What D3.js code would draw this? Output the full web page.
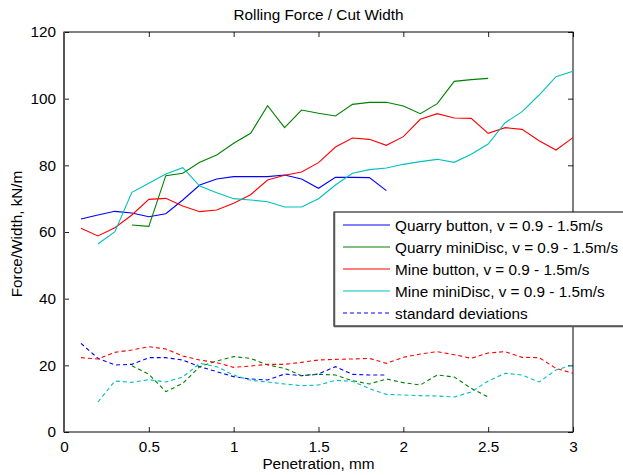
<!DOCTYPE html>
<html>
<head>
<meta charset="utf-8">
<script src="https://cdn.jsdelivr.net/npm/d3@7"></script>
<style>
  html, body { margin: 0; padding: 0; background: #fff; }
  svg { display: block; }
  text { font-family: "Liberation Sans", Arial, sans-serif; fill: #000; }
</style>
</head>
<body>
<svg id="chart" width="623" height="475"></svg>
<script>
// Penetration positions (mm) for each run, sampled every 0.1 mm
const quarryButtonX   = d3.range(1, 20).map(i => i / 10);   // 0.1 .. 1.9
const quarryMiniDiscX = d3.range(4, 26).map(i => i / 10);   // 0.4 .. 2.5
const mineButtonX     = d3.range(1, 31).map(i => i / 10);   // 0.1 .. 3.0
const mineMiniDiscX   = d3.range(2, 31).map(i => i / 10);   // 0.2 .. 3.0

// Mean rolling force per cut width, kN/m
const quarryButtonMean = [63.9, 65.1, 66.2, 65.7, 64.6, 65.5, 69.6, 74.1, 75.9, 76.6,
  76.6, 76.6, 77.1, 75.9, 73.1, 76.4, 76.4, 76.3, 72.4];
const quarryMiniDiscMean = [62.1, 61.7, 76.9, 77.6, 80.9, 83.1, 86.6, 89.6, 97.9, 91.3,
  96.6, 95.6, 94.8, 98.3, 98.9, 98.9, 97.8, 95.5, 98.5, 105.2, 105.7, 106.1];
const mineButtonMean = [61.1, 58.8, 61.3, 65.1, 69.8, 70.1, 67.8, 66.1, 66.6, 68.6,
  71.2, 75.6, 77.0, 78.0, 80.8, 85.5, 88.2, 87.8, 86.0, 88.6,
  93.8, 95.5, 94.2, 94.1, 89.6, 91.3, 90.8, 87.4, 84.6, 88.3];
const mineMiniDiscMean = [56.4, 60.1, 71.9, 74.6, 77.4, 79.3, 73.8, 71.8, 70.0, 69.6,
  69.1, 67.5, 67.5, 70.0, 74.1, 77.6, 78.7, 79.2, 80.3, 81.1,
  81.8, 80.9, 83.3, 86.4, 92.8, 96.1, 101.1, 106.6, 108.2];

// Standard deviations, kN/m
const quarryButtonSD = [26.6, 22.1, 20.1, 20.3, 22.3, 22.3, 21.6, 19.6, 18.1, 16.6,
  15.9, 15.6, 17.4, 16.9, 17.4, 19.6, 17.3, 17.1, 17.1];
const quarryMiniDiscSD = [19.9, 17.3, 12.1, 14.6, 19.6, 21.3, 22.6, 22.1, 20.1, 19.1,
  16.9, 17.3, 17.1, 15.4, 14.4, 15.9, 14.8, 14.1, 17.1, 16.5, 13.1, 10.5];
const mineButtonSD = [22.3, 21.9, 23.9, 24.6, 25.6, 24.9, 22.8, 21.6, 20.8, 19.4,
  19.8, 20.3, 20.3, 20.9, 21.6, 21.8, 21.9, 22.1, 20.6, 22.4,
  23.4, 24.1, 23.2, 22.1, 23.7, 24.1, 22.4, 22.3, 19.1, 17.6];
const mineMiniDiscSD = [9.0, 15.3, 14.9, 15.7, 15.0, 16.5, 20.6, 19.6, 17.1, 15.5,
  15.0, 14.4, 13.9, 14.1, 15.5, 15.2, 13.0, 11.3, 11.1, 10.9,
  10.8, 10.5, 12.0, 15.3, 17.6, 17.1, 15.0, 18.6, 20.1];

const xTicks = [0, 0.5, 1, 1.5, 2, 2.5, 3];
const yTicks = [0, 20, 40, 60, 80, 100, 120];

const legendLabels = [
  "Quarry button, v = 0.9 - 1.5m/s",
  "Quarry miniDisc, v = 0.9 - 1.5m/s",
  "Mine button, v = 0.9 - 1.5m/s",
  "Mine miniDisc, v = 0.9 - 1.5m/s",
  "standard deviations"
];

const series = [
  { x: quarryButtonX,   mean: quarryButtonMean,   sd: quarryButtonSD,   color: "#0000ff" },
  { x: quarryMiniDiscX, mean: quarryMiniDiscMean, sd: quarryMiniDiscSD, color: "#008000" },
  { x: mineButtonX,     mean: mineButtonMean,     sd: mineButtonSD,     color: "#ff0000" },
  { x: mineMiniDiscX,   mean: mineMiniDiscMean,   sd: mineMiniDiscSD,   color: "#00bfbf" }
];

const svg = d3.select("#chart");
const margin = { left: 64, top: 32, right: 50, bottom: 43 };
const W = 623, H = 475;
const x0 = margin.left, x1 = W - margin.right;
const y0 = H - margin.bottom, y1 = margin.top;

const x = d3.scaleLinear().domain([0, 3]).range([x0, x1]);
const y = d3.scaleLinear().domain([0, 120]).range([y0, y1]);

const fontSize = 15.3;

// Axes: ticks point inward, mirrored on top and right (box style)
const tickLen = 5;
const gBottom = svg.append("g").attr("transform", `translate(0,${y0})`)
  .call(d3.axisBottom(x).tickValues(xTicks).tickSizeInner(-tickLen).tickSizeOuter(0).tickPadding(9)
    .tickFormat(d3.format("")));
const gTop = svg.append("g").attr("transform", `translate(0,${y1})`)
  .call(d3.axisTop(x).tickValues(xTicks).tickSizeInner(-tickLen).tickSizeOuter(0).tickFormat(""));
const gLeft = svg.append("g").attr("transform", `translate(${x0},0)`)
  .call(d3.axisLeft(y).tickValues(yTicks).tickSizeInner(-tickLen).tickSizeOuter(0).tickPadding(8));
const gRight = svg.append("g").attr("transform", `translate(${x1},0)`)
  .call(d3.axisRight(y).tickValues(yTicks).tickSizeInner(-tickLen).tickSizeOuter(0).tickFormat(""));

[gBottom, gTop, gLeft, gRight].forEach(g => {
  g.select(".domain").remove();
  g.selectAll(".tick line").attr("stroke", "#222").attr("stroke-width", 1);
  g.selectAll("text").style("font-size", fontSize + "px")
    .style("font-family", "'Liberation Sans', Arial, sans-serif").attr("fill", "#000");
});

// Axis box
svg.append("rect")
  .attr("x", x0).attr("y", y1)
  .attr("width", x1 - x0).attr("height", y0 - y1)
  .attr("fill", "none").attr("stroke", "#000").attr("stroke-width", 1);
svg.append("line").attr("x1", x0).attr("x2", x0).attr("y1", y1).attr("y2", y0)
  .attr("stroke", "#555").attr("stroke-width", 2);

// Data lines
const plot = svg.append("g");
const line = d3.line();

series.forEach(s => {
  plot.append("path")
    .datum(s.x.map((v, i) => [x(v), y(s.mean[i])]))
    .attr("d", line)
    .attr("fill", "none")
    .attr("stroke", s.color)
    .attr("stroke-width", 1.1);
});
series.forEach(s => {
  plot.append("path")
    .datum(s.x.map((v, i) => [x(v), y(s.sd[i])]))
    .attr("d", line)
    .attr("fill", "none")
    .attr("stroke", s.color)
    .attr("stroke-width", 1.1)
    .attr("stroke-dasharray", "4,3");
});

// Titles
svg.append("text")
  .attr("x", (x0 + x1) / 2).attr("y", 20)
  .attr("text-anchor", "middle")
  .style("font-size", fontSize + "px")
  .text("Rolling Force / Cut Width");

svg.append("text")
  .attr("x", (x0 + x1) / 2).attr("y", 469)
  .attr("text-anchor", "middle")
  .style("font-size", fontSize + "px")
  .text("Penetration, mm");

svg.append("text")
  .attr("transform", `translate(22,234) rotate(-90)`)
  .attr("text-anchor", "middle")
  .style("font-size", fontSize + "px")
  .text("Force/Width, kN/m");

// Legend
const legend = svg.append("g").attr("transform", "translate(334,212)");
legend.append("rect")
  .attr("x", 0).attr("y", 0)
  .attr("width", 300).attr("height", 114)
  .attr("fill", "#fff").attr("stroke", "#000").attr("stroke-width", 1);
legend.append("line").attr("x1", 0).attr("x2", 300).attr("y1", 114.5).attr("y2", 114.5)
  .attr("stroke", "#555").attr("stroke-width", 1.5);
legend.append("line").attr("x1", 0.5).attr("x2", 0.5).attr("y1", 0).attr("y2", 115)
  .attr("stroke", "#555").attr("stroke-width", 1.5);

const legendColors = series.map(s => s.color).concat(["#0000ff"]);
legendLabels.forEach((label, i) => {
  const ly = 13 + i * 22;
  legend.append("line")
    .attr("x1", 9).attr("x2", 56).attr("y1", ly).attr("y2", ly)
    .attr("stroke", legendColors[i]).attr("stroke-width", 1.1)
    .attr("stroke-dasharray", i === 4 ? "4,3" : null);
  legend.append("text")
    .attr("x", 61).attr("y", ly + 5.5)
    .style("font-size", fontSize + "px")
    .text(label);
});
</script>
</body>
</html>
